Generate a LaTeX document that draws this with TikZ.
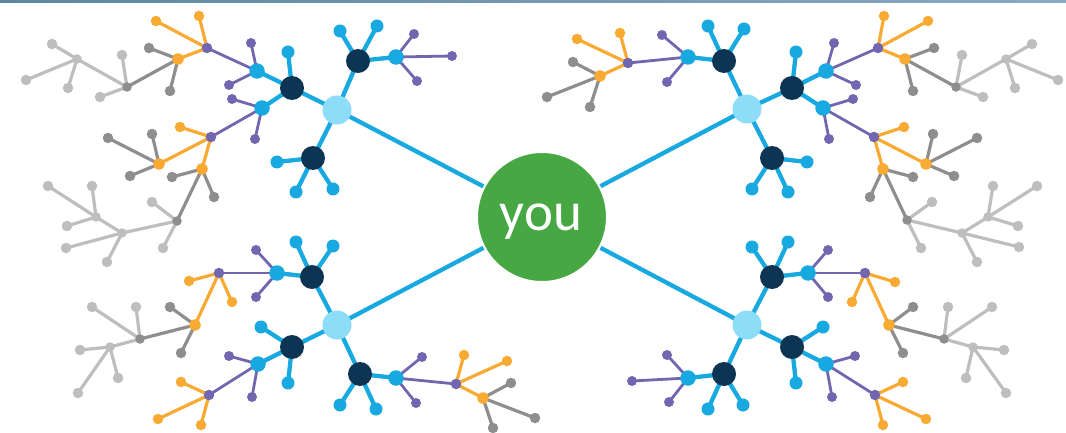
\documentclass[tikz,border=0pt]{standalone}
\usepackage{fontspec}
\setmainfont{Carlito}
\pgfdeclarelayer{bottom}
\pgfdeclarelayer{background}
\pgfsetlayers{bottom,background,main}
\definecolor{cyanC}{HTML}{19A9E1}
\definecolor{hubC}{HTML}{8EDDF8}
\definecolor{navyC}{HTML}{0D3553}
\definecolor{purpC}{HTML}{7166AF}
\definecolor{oranC}{HTML}{F8AA33}
\definecolor{dgrayC}{HTML}{8E8E8E}
\definecolor{lgrayC}{HTML}{BEBEBE}
\definecolor{greenC}{HTML}{47A843}
\definecolor{barL}{HTML}{5E86A0}
\definecolor{barR}{HTML}{8AAAC2}
\tikzset{
  dot/.style={circle,inner sep=0pt,draw=none},
  hub/.style={dot,fill=hubC,minimum size=29pt},
  navy/.style={dot,fill=navyC,minimum size=24pt},
  nodeC/.style={dot,fill=cyanC,minimum size=15.5pt},
  leafC/.style={dot,fill=cyanC,minimum size=13pt},
  nodeP/.style={dot,fill=purpC,minimum size=10.5pt},
  leafP/.style={dot,fill=purpC,minimum size=10pt},
  nodeO/.style={dot,fill=oranC,minimum size=11.5pt},
  leafO/.style={dot,fill=oranC,minimum size=10.5pt},
  nodeG/.style={dot,fill=dgrayC,minimum size=9.5pt},
  leafG/.style={dot,fill=dgrayC,minimum size=10.5pt},
  nodeL/.style={dot,fill=lgrayC,minimum size=9.5pt},
  leafL/.style={dot,fill=lgrayC,minimum size=10.5pt},
  eC/.style={draw=cyanC,line width=4.3pt},
  eP/.style={draw=purpC,line width=2.8pt},
  eO/.style={draw=oranC,line width=3.2pt},
  eG/.style={draw=dgrayC,line width=3.2pt},
  eL/.style={draw=lgrayC,line width=3.2pt},
  youcircle/.style={circle,fill=greenC,draw=white,line width=2pt,minimum size=130pt,inner sep=0pt},
  youtext/.style={text=white,font=\fontsize{55}{55}\selectfont,inner sep=0pt,anchor=base}
}
\newcommand\mkn[5]{%
  \node[#1] (#3) at (#5) {};
  \begin{pgfonlayer}{background}\draw[#2] (#4.center) -- (#3.center);\end{pgfonlayer}}
\begin{document}
\begin{tikzpicture}[x=1pt,y=-1pt]
\useasboundingbox (0,0) rectangle (1066,433);
\begin{pgfonlayer}{bottom}
\fill[white] (0,0) rectangle (1066,433);
\shade[left color=barL,right color=barR] (0,0) rectangle (1066,2.5);
\end{pgfonlayer}
\node[youcircle] (you) at (542,217) {};
\node[youtext] (youlabel) at (541,230) {you};
% ---------- top-left ----------
\node[hub] (A) at (337,110) {};
\begin{pgfonlayer}{background}\draw[eC] (you.center) -- (A.center);\end{pgfonlayer}
\mkn{navy}{eC}{A1}{A}{292,88}
\mkn{navy}{eC}{A2}{A}{358,61}
\mkn{navy}{eC}{A3}{A}{313,158}
\mkn{leafC}{eC}{A3x}{A3}{277,162}
\mkn{leafC}{eC}{A3y}{A3}{296,192}
\mkn{leafC}{eC}{A3z}{A3}{333,189}
\mkn{leafC}{eC}{A2x}{A2}{340,31}
\mkn{leafC}{eC}{A2y}{A2}{377,26}
\mkn{nodeC}{eC}{A2c}{A2}{396,57}
\mkn{leafP}{eP}{A2cx}{A2c}{414,34}
\mkn{leafP}{eP}{A2cy}{A2c}{452,56}
\mkn{leafP}{eP}{A2cz}{A2c}{417,81}
\mkn{leafC}{eC}{A1x}{A1}{288,52}
\mkn{nodeC}{eC}{A1a}{A1}{257,71}
\mkn{nodeC}{eC}{A1b}{A1}{262,108}
\mkn{leafP}{eP}{A1ax}{A1a}{251,43}
\mkn{leafP}{eP}{A1ay}{A1a}{229,85}
\mkn{nodeP}{eP}{A1ap}{A1a}{207,48}
\mkn{leafO}{eO}{A1apx}{A1ap}{156,21}
\mkn{leafO}{eO}{A1apy}{A1ap}{199,16}
\mkn{nodeO}{eO}{A1ao}{A1ap}{178,59}
\mkn{leafG}{eG}{A1aox}{A1ao}{149,48}
\mkn{leafG}{eG}{A1aoy}{A1ao}{170,91}
\mkn{nodeG}{eG}{A1ag}{A1ao}{127,87}
\mkn{leafL}{eL}{A1agx}{A1ag}{122,55}
\mkn{leafL}{eL}{A1agy}{A1ag}{100,97}
\mkn{nodeL}{eL}{A1al}{A1ag}{77,59}
\mkn{leafL}{eL}{A1alx}{A1al}{52,44}
\mkn{leafL}{eL}{A1aly}{A1al}{26,80}
\mkn{leafL}{eL}{A1alz}{A1al}{68,88}
\mkn{leafP}{eP}{A1bx}{A1b}{232,99}
\mkn{leafP}{eP}{A1by}{A1b}{255,139}
\mkn{nodeP}{eP}{A1bp}{A1b}{211,137}
\mkn{leafO}{eO}{A1bpx}{A1bp}{180,127}
\mkn{nodeO}{eO}{A1bo}{A1bp}{159,164}
\mkn{nodeO}{eO}{A1bq}{A1bp}{202,169}
\mkn{leafG}{eG}{A1box}{A1bo}{108,138}
\mkn{leafG}{eG}{A1boy}{A1bo}{152,134}
\mkn{leafG}{eG}{A1boz}{A1bo}{130,176}
\mkn{leafG}{eG}{A1bqx}{A1bq}{172,177}
\mkn{leafG}{eG}{A1bqy}{A1bq}{214,197}
\mkn{nodeG}{eG}{A1bg}{A1bq}{177,221}
\mkn{leafL}{eL}{A1bgx}{A1bg}{152,202}
\mkn{leafL}{eL}{A1bgy}{A1bg}{163,248}
\mkn{nodeL}{eL}{A1bl}{A1bg}{122,233}
\mkn{leafL}{eL}{A1blx}{A1bl}{66,248}
\mkn{leafL}{eL}{A1bly}{A1bl}{107,262}
\mkn{nodeL}{eL}{A1bm}{A1bl}{96,217}
\mkn{leafL}{eL}{A1bmx}{A1bm}{48,186}
\mkn{leafL}{eL}{A1bmy}{A1bm}{92,186}
\mkn{leafL}{eL}{A1bmz}{A1bm}{67,226}
% ---------- bottom-left ----------
\node[hub] (B) at (337,325) {};
\begin{pgfonlayer}{background}\draw[eC] (you.center) -- (B.center);\end{pgfonlayer}
\mkn{navy}{eC}{B1}{B}{312,277}
\mkn{navy}{eC}{B2}{B}{292,347}
\mkn{navy}{eC}{B3}{B}{360,374}
\mkn{leafC}{eC}{B1x}{B1}{296,242}
\mkn{leafC}{eC}{B1y}{B1}{333,246}
\mkn{nodeC}{eC}{B1c}{B1}{277,273}
\mkn{leafP}{eP}{B1cx}{B1c}{256,250}
\mkn{leafP}{eP}{B1cy}{B1c}{256,297}
\mkn{nodeP}{eP}{B1p}{B1c}{219,273}
\mkn{leafO}{eO}{B1px}{B1p}{189,281}
\mkn{leafO}{eO}{B1py}{B1p}{232,302}
\mkn{nodeO}{eO}{B1o}{B1p}{195,325}
\mkn{leafG}{eG}{B1ox}{B1o}{170,307}
\mkn{leafG}{eG}{B1oy}{B1o}{181,353}
\mkn{nodeG}{eG}{B1g}{B1o}{140,339}
\mkn{leafL}{eL}{B1gx}{B1g}{92,307}
\mkn{leafL}{eL}{B1gy}{B1g}{136,307}
\mkn{nodeL}{eL}{B1l}{B1g}{110,347}
\mkn{leafL}{eL}{B1lx}{B1l}{80,350}
\mkn{leafL}{eL}{B1ly}{B1l}{118,378}
\mkn{leafL}{eL}{B1lz}{B1l}{78,393}
\mkn{leafC}{eC}{B2x}{B2}{261,327}
\mkn{leafC}{eC}{B2y}{B2}{288,383}
\mkn{nodeC}{eC}{B2c}{B2}{258,364}
\mkn{leafP}{eP}{B2cx}{B2c}{229,356}
\mkn{leafP}{eP}{B2cy}{B2c}{252,397}
\mkn{nodeP}{eP}{B2p}{B2c}{209,395}
\mkn{leafO}{eO}{B2px}{B2p}{181,382}
\mkn{leafO}{eO}{B2py}{B2p}{158,419}
\mkn{leafO}{eO}{B2pz}{B2p}{201,425}
\mkn{leafC}{eC}{B3x}{B3}{340,405}
\mkn{leafC}{eC}{B3y}{B3}{376,409}
\mkn{nodeC}{eC}{B3c}{B3}{396,378}
\mkn{leafP}{eP}{B3cx}{B3c}{422,357}
\mkn{leafP}{eP}{B3cy}{B3c}{416,403}
\mkn{nodeP}{eP}{B3p}{B3c}{456,384}
\mkn{leafO}{eO}{B3px}{B3p}{464,355}
\mkn{leafO}{eO}{B3py}{B3p}{507,361}
\mkn{nodeO}{eO}{B3o}{B3p}{483,398}
\mkn{leafG}{eG}{B3ox}{B3o}{511,383}
\mkn{leafG}{eG}{B3oy}{B3o}{535,418}
\mkn{leafG}{eG}{B3oz}{B3o}{493,428}
% ---------- top-right ----------
\node[hub] (C) at (747,109) {};
\begin{pgfonlayer}{background}\draw[eC] (you.center) -- (C.center);\end{pgfonlayer}
\mkn{navy}{eC}{C1}{C}{724,61}
\mkn{navy}{eC}{C2}{C}{792,88}
\mkn{navy}{eC}{C3}{C}{772,158}
\mkn{leafC}{eC}{C1x}{C1}{708,26}
\mkn{leafC}{eC}{C1y}{C1}{744,29}
\mkn{nodeC}{eC}{C1c}{C1}{688,57}
\mkn{leafP}{eP}{C1cx}{C1c}{662,35}
\mkn{leafP}{eP}{C1cy}{C1c}{667,82}
\mkn{nodeP}{eP}{C1p}{C1c}{628,63}
\mkn{leafO}{eO}{C1px}{C1p}{577,39}
\mkn{leafO}{eO}{C1py}{C1p}{620,33}
\mkn{nodeO}{eO}{C1o}{C1p}{600,76}
\mkn{leafG}{eG}{C1ox}{C1o}{573,62}
\mkn{leafG}{eG}{C1oy}{C1o}{547,97}
\mkn{leafG}{eG}{C1oz}{C1o}{590,107}
\mkn{leafC}{eC}{C2x}{C2}{796,52}
\mkn{nodeC}{eC}{C2a}{C2}{826,71}
\mkn{nodeC}{eC}{C2b}{C2}{823,108}
\mkn{leafP}{eP}{C2ax}{C2a}{834,43}
\mkn{leafP}{eP}{C2ay}{C2a}{856,85}
\mkn{nodeP}{eP}{C2ap}{C2a}{878,48}
\mkn{leafO}{eO}{C2apx}{C2ap}{884,16}
\mkn{leafO}{eO}{C2apy}{C2ap}{928,21}
\mkn{nodeO}{eO}{C2ao}{C2ap}{905,59}
\mkn{leafG}{eG}{C2aox}{C2ao}{934,48}
\mkn{leafG}{eG}{C2aoy}{C2ao}{913,91}
\mkn{nodeG}{eG}{C2ag}{C2ao}{956,87}
\mkn{leafL}{eL}{C2agx}{C2ag}{962,55}
\mkn{leafL}{eL}{C2agy}{C2ag}{983,97}
\mkn{nodeL}{eL}{C2al}{C2ag}{1006,59}
\mkn{leafL}{eL}{C2alx}{C2al}{1032,44}
\mkn{leafL}{eL}{C2aly}{C2al}{1058,80}
\mkn{leafL}{eL}{C2alz}{C2al}{1015,88}
\mkn{leafP}{eP}{C2bx}{C2b}{853,99}
\mkn{leafP}{eP}{C2by}{C2b}{829,139}
\mkn{nodeP}{eP}{C2bp}{C2b}{874,137}
\mkn{leafO}{eO}{C2bpx}{C2bp}{904,127}
\mkn{nodeO}{eO}{C2bo}{C2bp}{926,164}
\mkn{nodeO}{eO}{C2bq}{C2bp}{883,169}
\mkn{leafG}{eG}{C2box}{C2bo}{933,134}
\mkn{leafG}{eG}{C2boy}{C2bo}{977,138}
\mkn{leafG}{eG}{C2boz}{C2bo}{954,176}
\mkn{leafG}{eG}{C2bqx}{C2bq}{913,177}
\mkn{leafG}{eG}{C2bqy}{C2bq}{870,197}
\mkn{nodeG}{eG}{C2bg}{C2bq}{907,220}
\mkn{leafL}{eL}{C2bgx}{C2bg}{932,202}
\mkn{leafL}{eL}{C2bgy}{C2bg}{921,248}
\mkn{nodeL}{eL}{C2bl}{C2bg}{962,233}
\mkn{leafL}{eL}{C2blx}{C2bl}{1019,247}
\mkn{leafL}{eL}{C2bly}{C2bl}{977,262}
\mkn{nodeL}{eL}{C2bm}{C2bl}{988,217}
\mkn{leafL}{eL}{C2bmx}{C2bm}{993,186}
\mkn{leafL}{eL}{C2bmy}{C2bm}{1037,186}
\mkn{leafL}{eL}{C2bmz}{C2bm}{1018,226}
\mkn{leafC}{eC}{C3x}{C3}{807,162}
\mkn{leafC}{eC}{C3y}{C3}{752,189}
\mkn{leafC}{eC}{C3z}{C3}{788,192}
% ---------- bottom-right ----------
\node[hub] (D) at (747,325) {};
\begin{pgfonlayer}{background}\draw[eC] (you.center) -- (D.center);\end{pgfonlayer}
\mkn{navy}{eC}{D1}{D}{772,277}
\mkn{navy}{eC}{D2}{D}{792,347}
\mkn{navy}{eC}{D3}{D}{724,374}
\mkn{leafC}{eC}{D1x}{D1}{752,247}
\mkn{leafC}{eC}{D1y}{D1}{788,242}
\mkn{nodeC}{eC}{D1c}{D1}{808,273}
\mkn{leafP}{eP}{D1cx}{D1c}{828,250}
\mkn{leafP}{eP}{D1cy}{D1c}{828,297}
\mkn{nodeP}{eP}{D1p}{D1c}{865,273}
\mkn{leafO}{eO}{D1px}{D1p}{895,282}
\mkn{leafO}{eO}{D1py}{D1p}{852,302}
\mkn{nodeO}{eO}{D1o}{D1p}{889,325}
\mkn{leafG}{eG}{D1ox}{D1o}{913,307}
\mkn{leafG}{eG}{D1oy}{D1o}{903,353}
\mkn{nodeG}{eG}{D1g}{D1o}{944,339}
\mkn{leafL}{eL}{D1gx}{D1g}{948,307}
\mkn{leafL}{eL}{D1gy}{D1g}{992,307}
\mkn{nodeL}{eL}{D1l}{D1g}{973,347}
\mkn{leafL}{eL}{D1lx}{D1l}{1004,350}
\mkn{leafL}{eL}{D1ly}{D1l}{966,378}
\mkn{leafL}{eL}{D1lz}{D1l}{1006,393}
\mkn{leafC}{eC}{D2x}{D2}{823,327}
\mkn{leafC}{eC}{D2y}{D2}{796,383}
\mkn{nodeC}{eC}{D2c}{D2}{826,364}
\mkn{leafP}{eP}{D2cx}{D2c}{855,356}
\mkn{leafP}{eP}{D2cy}{D2c}{832,397}
\mkn{nodeP}{eP}{D2p}{D2c}{875,395}
\mkn{leafO}{eO}{D2px}{D2p}{903,382}
\mkn{leafO}{eO}{D2py}{D2p}{926,419}
\mkn{leafO}{eO}{D2pz}{D2p}{883,425}
\mkn{leafC}{eC}{D3x}{D3}{708,409}
\mkn{leafC}{eC}{D3y}{D3}{743,405}
\mkn{nodeC}{eC}{D3c}{D3}{688,378}
\mkn{leafP}{eP}{D3cx}{D3c}{667,355}
\mkn{leafP}{eP}{D3cy}{D3c}{632,381}
\mkn{leafP}{eP}{D3cz}{D3c}{669,402}
\end{tikzpicture}
\end{document}
